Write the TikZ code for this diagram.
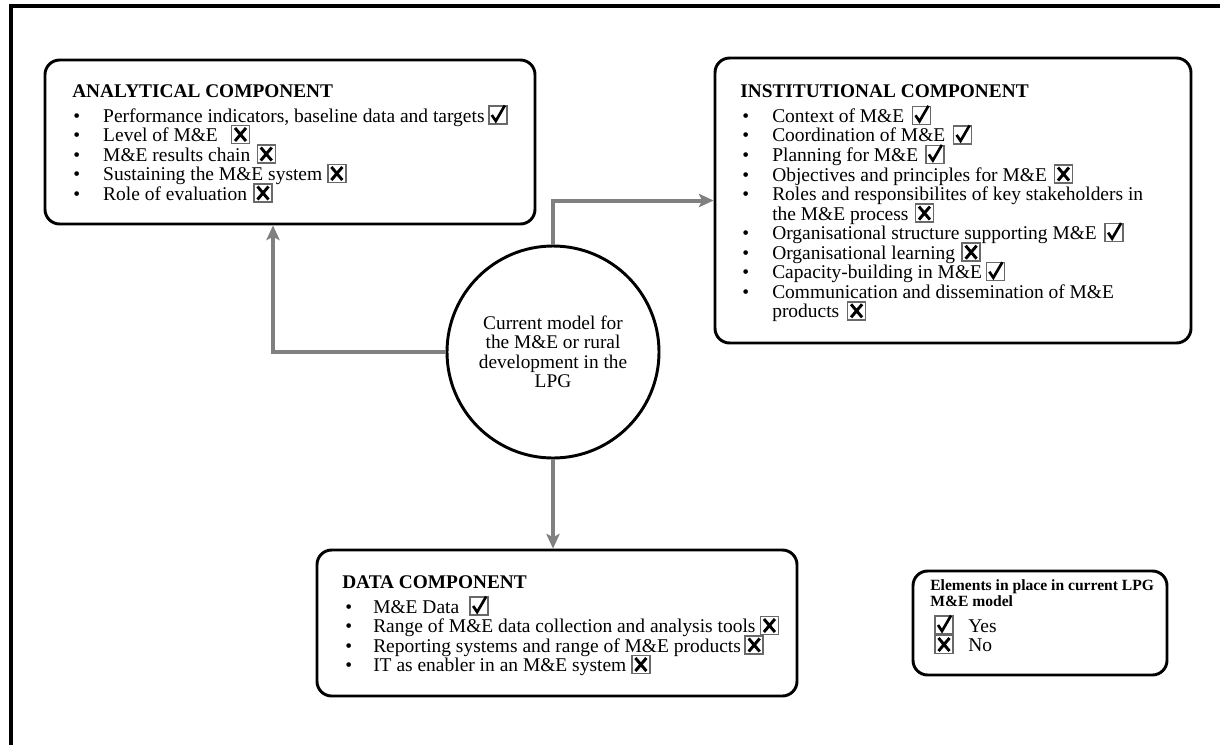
\documentclass[tikz,border=0pt]{standalone}
\usepackage{fontspec}
\setmainfont{Liberation Serif}
\usetikzlibrary{arrows.meta,fit}

\definecolor{linkgray}{RGB}{128,128,128}
\definecolor{framegray}{RGB}{105,105,105}

% bullet followed by a fixed indent
\newcommand{\bul}[1]{\makebox[#1][l]{\textbullet}}

\tikzset{
  panel/.style={draw=black, line width=2.2pt, rounded corners=11pt, inner sep=0pt},
  hub/.style={circle, draw=black, line width=2.2pt, minimum size=159pt, inner sep=0pt,
    align=center, font=\fontsize{14.5}{14.6}\selectfont},
  link/.style={draw=linkgray, line width=3pt,
    -{Stealth[length=11pt,width=10pt,inset=2.5pt]}},
  head/.style={anchor=base west, inner sep=0pt, font=\fontsize{14.5}{17}\selectfont\bfseries},
  itm/.style={anchor=base west, inner sep=0pt, font=\fontsize{14.6}{17}\selectfont},
  keyhead/.style={anchor=base west, inner sep=0pt, font=\fontsize{11.7}{14}\selectfont\bfseries},
  yes/.pic={
    \draw[draw=framegray, line width=1.1pt] (0,2) rectangle (18,-16);
    \draw[line width=2pt, line join=miter] (3,-7) -- (7,-1) -- (16,-16.5);
  },
  no/.pic={
    \draw[draw=framegray, line width=1.1pt] (0,2) rectangle (18,-16);
    \draw[line width=2.2pt] (3.5,-0.5) -- (14.5,-13.5) (3.5,-13.5) -- (14.5,-0.5);
  }
}

\begin{document}
\begin{tikzpicture}[x=0.75pt,y=-0.75pt]
\useasboundingbox (0,0) rectangle (1220,744);
\clip (0,0) rectangle (1220,744);

% page frame
\draw[line width=3pt] (11,6) rectangle (1270,800);

% panels
\node[panel, fit={(45,60) (535,224)}] (ana) {};
\node[panel, fit={(715,58) (1191,343)}] (inst) {};
\node[panel, fit={(317,550) (797,696)}] (data) {};
\node[panel, fit={(913,571) (1167,675)}] (key) {};

% central model
\node[hub] (hub) at (553,352) {Current model for\\the M\&E or rural\\development in the\\LPG};

% connectors
\coordinate (abend) at (273,0);
\draw[link] (hub.west) -| (abend |- ana.south);
\draw[link] (hub.north) |- (inst.west);
\draw[link] (hub.south) -- (hub.south |- data.north);

% analytical component
\node[head] (ah) at (72,97) {ANALYTICAL COMPONENT};
\node[itm] (a1) at (73,122) {\bul{22.5pt}Performance indicators, baseline data and targets};
\pic at ([xshift=3pt]a1.base east) {yes};
\node[itm] (a2) at (73,141.5) {\bul{22.5pt}Level of M\&E};
\pic at ([xshift=10pt]a2.base east) {no};
\node[itm] (a3) at (73,161) {\bul{22.5pt}M\&E results chain};
\pic at ([xshift=5pt]a3.base east) {no};
\node[itm] (a4) at (73,180.5) {\bul{22.5pt}Sustaining the M\&E system};
\pic at ([xshift=4pt]a4.base east) {no};
\node[itm] (a5) at (73,200) {\bul{22.5pt}Role of evaluation};
\pic at ([xshift=5pt]a5.base east) {no};

% institutional component
\node[head] (ih) at (740,97) {INSTITUTIONAL COMPONENT};
\node[itm] (i1) at (742,122.3) {\bul{22.5pt}Context of M\&E};
\pic at ([xshift=6pt]i1.base east) {yes};
\node[itm] (i2) at (742,141.9) {\bul{22.5pt}Coordination of M\&E};
\pic at ([xshift=6pt]i2.base east) {yes};
\node[itm] (i3) at (742,161.4) {\bul{22.5pt}Planning for M\&E};
\pic at ([xshift=5.5pt]i3.base east) {yes};
\node[itm] (i4) at (742,181) {\bul{22.5pt}Objectives and principles for M\&E};
\pic at ([xshift=5.5pt]i4.base east) {no};
\node[itm] (i5) at (742,200.5) {\bul{22.5pt}Roles and responsibilites of key stakeholders in};
\node[itm] (i5b) at (772,220.1) {the M\&E process};
\pic at ([xshift=5pt]i5b.base east) {no};
\node[itm] (i6) at (742,239.6) {\bul{22.5pt}Organisational structure supporting M\&E};
\pic at ([xshift=6pt]i6.base east) {yes};
\node[itm] (i7) at (742,259.2) {\bul{22.5pt}Organisational learning};
\pic at ([xshift=5pt]i7.base east) {no};
\node[itm] (i8) at (742,278.7) {\bul{22.5pt}Capacity-building in M\&E};
\pic at ([xshift=3pt]i8.base east) {yes};
\node[itm] (i9) at (742,298.3) {\bul{22.5pt}Communication and dissemination of M\&E};
\node[itm] (i9b) at (772,317.8) {products};
\pic at ([xshift=6pt]i9b.base east) {no};

% data component
\node[head] (dh) at (342,588) {DATA COMPONENT};
\node[itm] (d1) at (345,613) {\bul{21pt}M\&E Data};
\pic at ([xshift=8pt]d1.base east) {yes};
\node[itm] (d2) at (345,632.5) {\bul{21pt}Range of M\&E data collection and analysis tools};
\pic at ([xshift=3.5pt]d2.base east) {no};
\node[itm] (d3) at (345,652) {\bul{21pt}Reporting systems and range of M\&E products};
\pic at ([xshift=3pt]d3.base east) {no};
\node[itm] (d4) at (345,671.5) {\bul{21pt}IT as enabler in an M\&E system};
\pic at ([xshift=4pt]d4.base east) {no};

% key
\node[keyhead] (k1) at (930,590) {Elements in place in current LPG};
\node[keyhead] (k2) at (930,606.5) {M\&E model};
\pic at (935,632) {yes};
\node[itm] (ky) at (968,632) {Yes};
\pic at (935,651.5) {no};
\node[itm] (kn) at (968,651.5) {No};
\end{tikzpicture}
\end{document}
